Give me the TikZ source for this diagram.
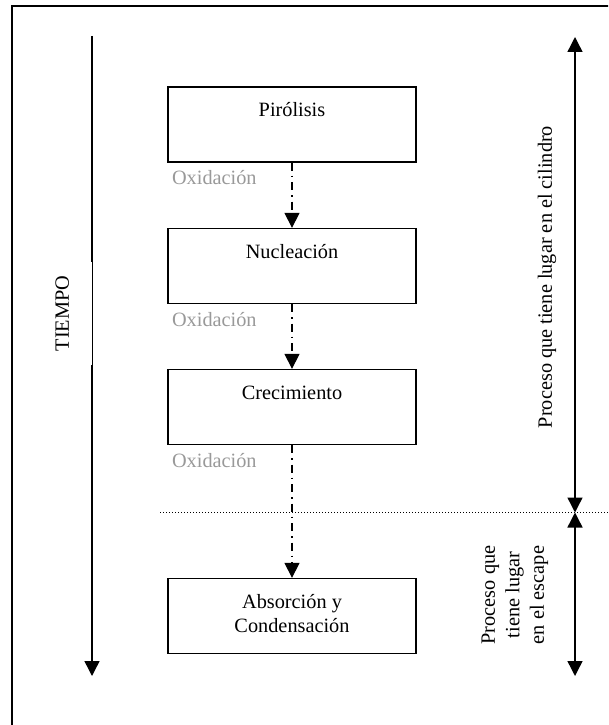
\documentclass[tikz,border=0pt]{standalone}
\usepackage{fontspec}
\setmainfont{Liberation Serif}
\usetikzlibrary{arrows.meta}
\definecolor{oxgray}{RGB}{153,153,153}
\begin{document}
\begin{tikzpicture}[x=1pt,y=-1pt,
  >={Triangle[width=15pt,length=15pt]},
  every node/.style={inner sep=0pt, font=\fontsize{20.3}{24.5}\selectfont},
  procbox/.style={draw, line width=1.3pt, minimum width=248pt, minimum height=75pt},
  boxtext/.style={anchor=base},
  oxtext/.style={anchor=base west, text=oxgray},
  flow/.style={line width=1.2pt, dash pattern=on 8pt off 5pt on 1.5pt off 5pt, ->},
  timearrow/.style={line width=1.4pt},
  sepline/.style={line width=1pt, dash pattern=on 1pt off 2pt}
]
\useasboundingbox (0,0) rectangle (608,725);
\clip (0,0) rectangle (608,725);
% outer frame (right and bottom sides lie outside the picture)
\draw[line width=1.3pt] (12,740) -- (12,6) -- (620,6);

% time axis
\coordinate (t0) at (92,36);
\coordinate (t1) at (92,676);
\draw[timearrow,->] (t0) -- (t1);
\node[rotate=90, fill=white, minimum width=103pt, minimum height=59.4pt] (tiempo) at (62.3,313.5) {TIEMPO};

% boxes
\node[procbox] (p) at (292,124.5) {};
\node[procbox] (n) at (292,266) {};
\node[procbox] (c) at (292,407) {};
\node[procbox] (a) at (292,616) {};
\node[boxtext] (pt) at ([shift={(0,30.5)}]p.north) {Pirólisis};
\node[boxtext] (nt) at ([shift={(0,30.5)}]n.north) {Nucleación};
\node[boxtext] (ct) at ([shift={(0,30.5)}]c.north) {Crecimiento};
\node[align=center] (at) at (292,613.4) {Absorción y\\Condensación};

% oxidation labels
\node[oxtext] (ox1) at ([shift={(4.5,22)}]p.south west) {Oxidación};
\node[oxtext] (ox2) at ([shift={(4.5,22)}]n.south west) {Oxidación};
\node[oxtext] (ox3) at ([shift={(4.5,22)}]c.south west) {Oxidación};

% separator
\coordinate (d0) at (160,512.5);
\coordinate (d1) at (608,512.5);
\draw[sepline] (d0) -- (d1);

% flow connectors
\draw[flow] (p.south) -- (n.north);
\draw[flow] (n.south) -- (c.north);
\draw[flow] (c.south) -- (a.north);

% right range arrows
\coordinate (r0) at (575,37);
\coordinate (rm) at (575,512.5);
\coordinate (r1) at (575,676);
\draw[timearrow,<->] (r0) -- (rm);
\draw[timearrow,<->] (rm) -- (r1);
\node[rotate=90] (cyl) at (547,277) {Proceso que tiene lugar en el cilindro};
\node[rotate=90, align=center] (esc) at (515,595) {Proceso que\\tiene lugar\\en el escape};
\end{tikzpicture}
\end{document}
